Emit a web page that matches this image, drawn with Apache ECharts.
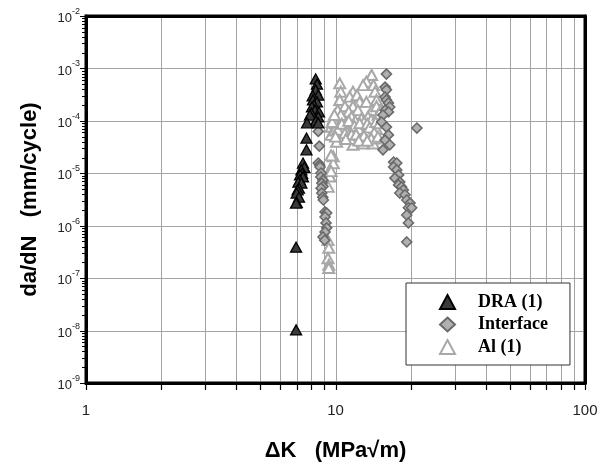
<!DOCTYPE html>
<html><head><meta charset="utf-8">
<script src="https://cdn.jsdelivr.net/npm/echarts@6/dist/echarts.min.js"></script>
<style>html,body{margin:0;padding:0;background:#fff}#c{width:608px;height:470px}</style>
</head><body><div id="c"></div>
<script>
// ---- data ----
const seriesNames = ['DRA (1)', 'Interface', 'Al (1)'];
const xMajorLabels = [1, 10, 100];
const yDecades = [1e-9, 1e-8, 1e-7, 1e-6, 1e-5, 1e-4, 1e-3, 1e-2];
const mantissas = [1, 2, 3, 4, 5, 6, 7, 8, 9];

const draData = [
  [8.33,6.3e-4],[8.43,5.0e-4],[8.33,3.9e-4],[8.53,3.1e-4],[8.10,3.0e-4],[8.12,2.5e-4],
  [8.43,2.3e-4],[8.20,2.0e-4],[8.05,1.84e-4],[8.27,1.6e-4],[8.59,1.48e-4],[8.00,1.4e-4],
  [7.90,1.29e-4],[8.53,1.19e-4],[8.35,1.0e-4],[7.69,9.1e-5],[8.53,9.1e-5],[7.65,4.7e-5],
  [7.65,2.8e-5],[7.41,1.57e-5],[7.50,1.3e-5],[7.30,1.16e-5],[7.35,1.0e-5],[7.21,9.3e-6],
  [7.41,8.5e-6],[7.20,7.5e-6],[7.10,6.8e-6],[7.30,6.5e-6],[7.14,5.2e-6],[7.05,4.8e-6],
  [6.99,4.2e-6],[7.14,3.5e-6],[6.99,2.8e-6],[6.95,2.7e-6],[6.95,3.9e-7],[6.95,1.03e-8]
];
const interfaceData = [
  [8.53,6.3e-5],[8.61,3.3e-5],[8.53,1.57e-5],[8.64,1.44e-5],[8.67,1.32e-5],[8.75,1.01e-5],
  [8.73,8.5e-6],[8.91,7.4e-6],[8.81,6.5e-6],[8.91,5.6e-6],[8.75,5.2e-6],[8.81,4.2e-6],
  [8.89,3.5e-6],[8.94,3.1e-6],[9.08,1.83e-6],[9.22,1.75e-6],[9.08,1.47e-6],[9.16,1.13e-6],
  [9.22,9.1e-7],[9.08,7.6e-7],[8.91,6.1e-7],[9.05,5.3e-7],
  [16.0,7.8e-4],[15.8,4.4e-4],[16.0,3.9e-4],[15.8,2.85e-4],[16.0,2.5e-4],[16.3,2.2e-4],
  [16.5,1.84e-4],[15.8,1.6e-4],[16.3,1.48e-4],[15.5,1.29e-4],[15.3,9.5e-5],[16.0,7.6e-5],
  [16.3,5.4e-5],[15.8,4.3e-5],[16.5,3.5e-5],[15.5,2.8e-5],[17.1,1.64e-5],[17.6,1.57e-5],
  [17.1,1.32e-5],[17.6,1.16e-5],[17.9,9.3e-6],[17.3,8.1e-6],[18.1,6.8e-6],[17.9,6.0e-6],
  [18.4,5.5e-6],[18.7,4.8e-6],[18.1,4.2e-6],[19.0,3.9e-6],[19.3,3.1e-6],[19.9,2.7e-6],
  [19.6,2.2e-6],[20.2,2.2e-6],[19.3,1.6e-6],[19.6,1.13e-6],[19.3,4.9e-7],[21.2,7.3e-5]
];
const alData = [
  [10.4,5.2e-4],[13.96,7.5e-4],[13.3,5.6e-4],[12.9,4.8e-4],[14.2,4.8e-4],[10.5,3.6e-4],
  [11.75,3.6e-4],[14.4,3.6e-4],[11.4,2.9e-4],[12.2,3.1e-4],[10.4,2.5e-4],[12.5,2.3e-4],
  [13.3,2.3e-4],[14.6,2.5e-4],[10.9,1.9e-4],[11.75,1.9e-4],[10.2,1.6e-4],[11.3,1.5e-4],
  [12.3,1.6e-4],[14.0,1.6e-4],[14.6,1.9e-4],[9.8,1.1e-4],[10.7,1.1e-4],[11.6,1.2e-4],
  [12.7,1.1e-4],[13.5,1.2e-4],[9.6,7.7e-5],[10.4,8.3e-5],[11.2,7.7e-5],[12.2,8.3e-5],
  [13.1,7.7e-5],[14.2,8.3e-5],[9.6,5.4e-5],[10.6,5.0e-5],[11.4,5.4e-5],[12.3,5.0e-5],
  [13.5,5.0e-5],[14.4,4.6e-5],[10.1,4.0e-5],[11.75,3.5e-5],[12.9,3.7e-5],[14.2,3.7e-5],
  [10.0,9.0e-5],[10.8,7.0e-5],[11.8,6.5e-5],[12.6,6.0e-5],[13.8,6.5e-5],[10.3,6.0e-5],
  [11.0,9.5e-5],[12.0,1.0e-4],[13.0,9.5e-5],[13.9,1.05e-4],[14.8,1.3e-4],[9.9,6.5e-5],
  [10.5,1.3e-4],[11.5,4.5e-5],[12.8,4.5e-5],[14.0,5.5e-5],[14.6,7.0e-5],
  [10.2,6.8e-5],[10.6,8.8e-5],[11.1,6.2e-5],[11.3,1.0e-4],[11.9,8.0e-5],[12.4,7.0e-5],
  [12.5,9.0e-5],[13.2,6.2e-5],[13.4,8.8e-5],[13.7,7.5e-5],[14.3,6.0e-5],[14.5,9.5e-5],
  [10.9,5.8e-5],[11.6,5.5e-5],[12.1,5.5e-5],[13.0,5.2e-5],[13.9,4.6e-5],[10.0,5.0e-5],
  [11.0,4.5e-5],[12.4,4.2e-5],[13.4,4.2e-5],[14.8,5.0e-5],[15.0,9.0e-5],[15.2,1.6e-4],
  [9.7,9.5e-5],[9.9,1.3e-4],
  [9.8,2.1e-5],[9.8,1.55e-5],[9.5,1.16e-5],[9.5,8.7e-6],[9.35,5.5e-6],[9.6,2.2e-5],
  [9.6,1.1e-5],[9.33,5.3e-7],[9.4,3.8e-7],[9.33,2.4e-7],[9.4,1.8e-7],[9.4,1.56e-7]
];

// tick / grid values built from the decade + mantissa lists
const xDecades = [1, 10];
const xTickVals = [];
xDecades.forEach(d => mantissas.forEach(m => xTickVals.push(m * d)));
xTickVals.push(100);
const xGridVals = xTickVals.filter(v => v > 1 && v < 100);
const yTickVals = [];
yDecades.slice(0, -1).forEach(d => mantissas.forEach(m => yTickVals.push({v: m * d, major: m === 1})));
yTickVals.push({v: 1e-2, major: true});
const yGridVals = yDecades.slice(1, -1);

const X_MIN = 1, X_MAX = 100, Y_MIN = 1e-9, Y_MAX = 1e-2;

const chart = echarts.init(document.getElementById('c'), null, {renderer: 'canvas'});
const px = x => Math.round(x) + 0.5;

chart.setOption({
  animation: false,
  backgroundColor: '#fff',
  grid: {left: 86, top: 16, right: 23, bottom: 87, show: true, borderColor: '#000', borderWidth: 3, backgroundColor: '#fff'},
  xAxis: [{
    type: 'log', logBase: 10, min: X_MIN, max: X_MAX, z: 10,
    axisLine: {show: true, onZero: false, lineStyle: {color: '#000', width: 3}},
    axisTick: {show: false}, splitLine: {show: false},
    axisLabel: {margin: 20, fontSize: 15, fontFamily: 'Liberation Sans', color: '#222',
      formatter: v => { const r = Math.round(v); return xMajorLabels.includes(r) ? String(r) : ''; }},
    name: 'ΔK   (MPa√m)', nameLocation: 'middle', nameGap: 57,
    nameTextStyle: {fontSize: 22, fontWeight: 'bold', fontFamily: 'Liberation Sans', color: '#000'}
  }, {
    type: 'log', logBase: 10, min: X_MIN, max: X_MAX, position: 'top', z: 10,
    axisLine: {show: true, onZero: false, lineStyle: {color: '#000', width: 3}},
    axisTick: {show: false}, axisLabel: {show: false}, splitLine: {show: false}
  }],
  yAxis: [{
    type: 'log', logBase: 10, min: Y_MIN, max: Y_MAX, interval: 1, z: 10,
    axisLine: {show: true, onZero: false, lineStyle: {color: '#000', width: 3}},
    axisTick: {show: false}, splitLine: {show: false},
    axisLabel: {margin: 6, color: '#222',
      formatter: v => '{b|10}{s|' + Math.round(Math.log10(v)) + '}',
      rich: {
        b: {fontSize: 13, fontFamily: 'Liberation Sans', color: '#222', verticalAlign: 'bottom', lineHeight: 18},
        s: {fontSize: 9, fontFamily: 'Liberation Sans', color: '#222', verticalAlign: 'top', lineHeight: 18}
      }},
    name: 'da/dN   (mm/cycle)', nameLocation: 'middle', nameGap: 45,
    nameTextStyle: {fontSize: 22, fontWeight: 'bold', fontFamily: 'Liberation Sans', color: '#000'}
  }, {
    type: 'log', logBase: 10, min: Y_MIN, max: Y_MAX, interval: 1, position: 'right', z: 10,
    axisLine: {show: true, onZero: false, lineStyle: {color: '#000', width: 3}},
    axisTick: {show: false}, axisLabel: {show: false}, splitLine: {show: false}
  }],
  legend: {
    data: [
      {name: seriesNames[0], icon: 'triangle'},
      {name: seriesNames[1], icon: 'diamond'},
      {name: seriesNames[2], icon: 'triangle'}
    ],
    orient: 'vertical', left: 406, top: 283, padding: [10, 22, 9, 33], itemGap: 4.5,
    itemWidth: 15, itemHeight: 14, backgroundColor: '#fff', borderColor: '#333', borderWidth: 1,
    selectedMode: false,
    textStyle: {fontFamily: 'Liberation Serif', fontWeight: 'bold', fontSize: 18, color: '#000', lineHeight: 18, padding: [0, 0, 0, 18]}
  },
  series: [
    {
      type: 'custom', name: 'vgrid', z: 1, silent: true, clip: false,
      data: xGridVals.map(v => [v, 1e-5]),
      renderItem: (p, api) => {
        const v = api.value(0);
        const a = api.coord([v, Y_MAX]), b = api.coord([v, Y_MIN]);
        return {type: 'line', shape: {x1: px(a[0]), y1: a[1] + 2, x2: px(b[0]), y2: b[1] - 2}, style: {stroke: '#a4a4a4', lineWidth: 1}};
      }
    },
    {
      type: 'custom', name: 'hgrid', z: 1, silent: true, clip: false,
      data: yGridVals.map(v => [10, v]),
      renderItem: (p, api) => {
        const v = api.value(1);
        const a = api.coord([X_MIN, v]), b = api.coord([X_MAX, v]);
        return {type: 'line', shape: {x1: a[0] + 2, y1: px(a[1]), x2: b[0] - 2, y2: px(b[1])}, style: {stroke: '#a4a4a4', lineWidth: 1}};
      }
    },
    {
      type: 'custom', name: 'xticks', z: 11, silent: true, clip: false,
      data: xTickVals.map(v => [v, Y_MIN]),
      renderItem: (p, api) => {
        const a = api.coord([api.value(0), Y_MIN]);
        return {type: 'line', shape: {x1: px(a[0]), y1: a[1], x2: px(a[0]), y2: a[1] + 7}, style: {stroke: '#000', lineWidth: 1.2}};
      }
    },
    {
      type: 'custom', name: 'yticks', z: 11, silent: true, clip: false,
      data: yTickVals.map(t => [X_MIN, t.v, t.major ? 1 : 0]),
      renderItem: (p, api) => {
        const a = api.coord([X_MIN, api.value(1)]);
        const len = api.value(2) ? 6 : 4;
        return {type: 'line', shape: {x1: a[0] - len, y1: px(a[1]), x2: a[0], y2: px(a[1])}, style: {stroke: '#000', lineWidth: 1}};
      }
    },
    {
      type: 'scatter', name: seriesNames[2], data: alData, symbol: 'triangle', symbolSize: [11, 10],
      itemStyle: {color: '#fff', borderColor: '#a8a8a8', borderWidth: 2, opacity: 1}
    },
    {
      type: 'scatter', name: seriesNames[1], data: interfaceData, symbol: 'diamond', symbolSize: [10, 10],
      itemStyle: {color: '#b0b0b0', borderColor: '#6a6a6a', borderWidth: 1.6, opacity: 1}
    },
    {
      type: 'scatter', name: seriesNames[0], data: draData, symbol: 'triangle', symbolSize: [11, 10],
      itemStyle: {color: '#3a3a3a', borderColor: '#000', borderWidth: 1.3, opacity: 1}
    }
  ]
});
</script>
</body></html>
